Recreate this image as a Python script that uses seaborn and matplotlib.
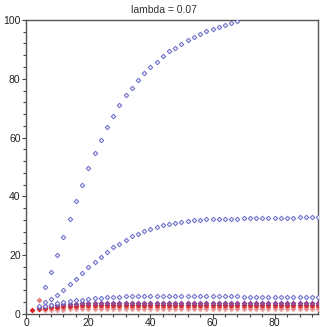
import numpy as np
import pandas as pd
import matplotlib
matplotlib.use('Agg')
import matplotlib.pyplot as plt
import seaborn as sns
from matplotlib.ticker import MultipleLocator

# values
x_all = list(range(2, 96, 2))

curve_a = [9.1, 14.1, 20.0, 26.1, 32.4, 38.5, 44.0, 49.6, 54.8, 59.3, 63.5, 67.4,
           71.1, 74.3, 77.0, 79.6, 81.9, 84.0, 85.8, 87.6, 89.3, 90.5, 91.9, 93.1,
           94.2, 95.1, 96.1, 97.0, 97.6, 98.3, 99.0, 99.7]
curve_b = [2.6, 3.9, 5.1, 6.5, 8.3, 10.2, 12.0, 13.8, 15.8, 17.6, 19.5, 21.0,
           22.6, 23.9, 25.3, 26.4, 27.3, 28.3, 28.9, 29.5, 30.2, 30.7, 31.0, 31.4,
           31.6, 31.9, 32.1, 32.2, 32.3, 32.3, 32.4, 32.4, 32.4, 32.5, 32.5, 32.5,
           32.5, 32.6, 32.6, 32.6, 32.7, 32.7, 32.8, 32.8, 33.0, 33.0]
curve_c = [2.8, 3.1, 3.6, 4.1, 4.4, 4.6, 4.9, 5.1, 5.3, 5.5, 5.6, 5.8, 5.9, 6.0,
           6.0, 6.0, 6.0, 6.0, 6.0, 6.0, 6.0, 6.0, 6.0, 6.0, 6.0, 6.0, 6.0, 6.0,
           6.0, 6.0, 6.0, 6.0, 5.8, 5.8, 5.8, 5.8, 5.8, 5.8, 5.8, 5.8, 5.8, 5.8,
           5.8, 5.8, 5.8]
curve_d = [2.4, 2.6, 2.9, 3.1, 3.3, 3.4, 3.5, 3.6, 3.7, 3.8, 3.8, 3.8, 3.8, 3.8,
           3.8, 3.8, 3.8, 3.8, 3.8, 3.8, 3.8, 3.8, 3.8, 3.8, 3.8, 3.8, 3.8, 3.8,
           3.8, 3.8, 3.8, 3.8, 3.8, 3.8, 3.8, 3.8, 3.8, 3.8, 3.8, 3.8, 3.8, 3.8,
           3.8, 3.8, 3.8, 3.8]
curve_e = [1.3, 1.6, 2.0, 2.2, 2.4, 2.6, 2.7, 2.8, 2.9, 3.0, 3.0, 3.0, 3.0, 3.0,
           3.0, 3.0, 3.0, 3.0, 3.0, 3.0, 3.0, 3.0, 3.0, 3.0, 3.0, 3.0, 3.0, 3.0,
           3.0, 3.0, 3.0, 3.0, 3.0, 3.0, 3.0, 3.0, 3.0, 3.0, 3.0, 3.0, 3.0, 3.0,
           3.0, 3.0, 3.0, 3.0, 3.0]
curve_f = [4.7, 1.8, 1.9, 2.0, 2.1, 2.2, 2.2, 2.2, 2.2, 2.2, 2.2, 2.2, 2.2, 2.2,
           2.2, 2.2, 2.2, 2.2, 2.2, 2.2, 2.2, 2.2, 2.2, 2.2, 2.2, 2.2, 2.2, 2.2,
           2.2, 2.2, 2.2, 2.2, 2.2, 2.2, 2.2, 2.2, 2.2, 2.2, 2.2, 2.2, 2.2, 2.2,
           2.2, 2.2, 2.2, 2.2]
curve_g = [1.2, 1.3, 1.4, 1.5, 1.6, 1.6, 1.6, 1.6, 1.6, 1.6, 1.6, 1.6, 1.6, 1.6,
           1.6, 1.6, 1.6, 1.6, 1.6, 1.6, 1.6, 1.6, 1.6, 1.6, 1.6, 1.6, 1.6, 1.6,
           1.6, 1.6, 1.6, 1.6, 1.6, 1.6, 1.6, 1.6, 1.6, 1.6, 1.6, 1.6, 1.6, 1.6,
           1.6, 1.6, 1.6]

sns.set_style('white')
plt.rcParams['font.family'] = ['Liberation Sans', 'DejaVu Sans']

fig = plt.figure(figsize=(3.27, 3.27), dpi=100)
ax = fig.add_axes([0.08, 0.04, 0.893, 0.899])

# (values, start index in x_all, face, edge)
series = [
    (curve_g, 2, '#eaa8a8', '#eaa8a8'),
    (curve_f, 1, '#e48080', '#e48080'),
    (curve_e, 0, '#e02828', '#d82020'),
    (curve_d, 1, '#b04878', '#8048a0'),
    (curve_c, 2, 'white', '#7272cc'),
    (curve_b, 1, 'white', '#7272cc'),
    (curve_a, 2, 'white', '#7272cc'),
]
for vals, start, face, edge in series:
    xs = x_all[start:start + len(vals)]
    sns.scatterplot(x=xs, y=vals, marker='D', s=5, color=face,
                    edgecolor=edge, linewidth=0.8, ax=ax, zorder=3)

ax.set_xlim(0, 94)
ax.set_ylim(0, 100)
ax.xaxis.set_major_locator(MultipleLocator(20))
ax.xaxis.set_minor_locator(MultipleLocator(4))
ax.yaxis.set_major_locator(MultipleLocator(20))
ax.yaxis.set_minor_locator(MultipleLocator(4))
ax.tick_params(which='both', direction='out', color='#444444', width=0.8,
               labelsize=7.5, labelcolor='#222222')
ax.tick_params(axis='y', pad=1)
ax.tick_params(axis='x', pad=0)
ax.tick_params(which='major', length=3, left=True, bottom=True)
ax.tick_params(which='minor', length=2, left=True, bottom=True)
for sp in ax.spines.values():
    sp.set_color('#555555')
    sp.set_linewidth(1.0)
ax.set_xlabel('')
ax.set_ylabel('')

fig.text(0.5, 0.985, 'lambda = 0.07', ha='center', va='top', fontsize=7.5,
         color='#333333')

fig.savefig('out.png', dpi=100, facecolor='white')
